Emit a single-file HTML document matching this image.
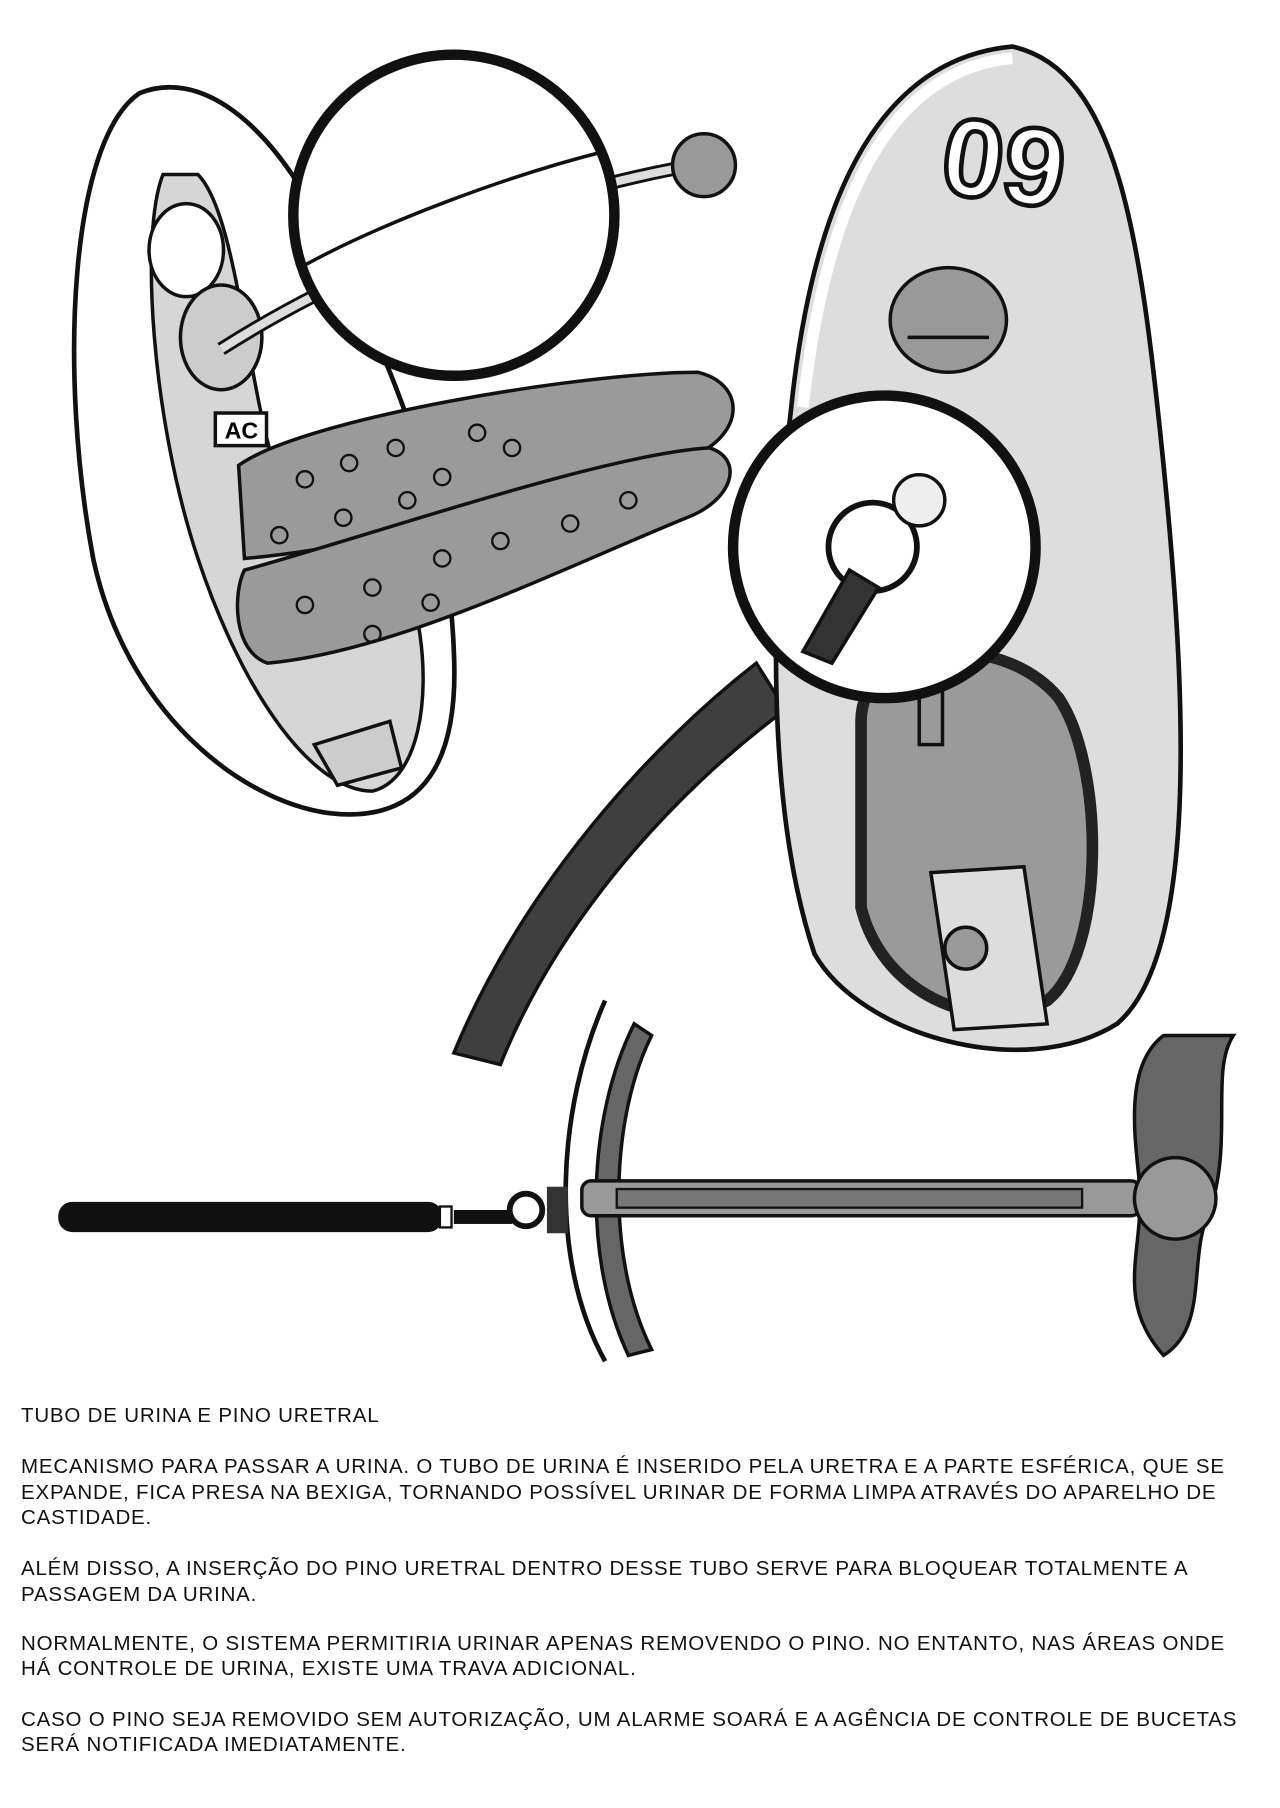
<!DOCTYPE html>
<html><head><meta charset="utf-8"><style>
html,body{margin:0;padding:0;background:#fff;}
#w{position:relative;width:1280px;height:1808px;overflow:hidden;background:#fff;}
svg{position:absolute;left:0;top:0;}
.t{position:absolute;left:21px;font-family:"Liberation Sans",sans-serif;font-size:20.5px;letter-spacing:0.8px;color:#111;text-transform:uppercase;white-space:nowrap;line-height:25px;}
</style></head><body><div id="w">
<svg width="1280" height="1808" viewBox="0 0 1100 1554">
 <path d="M120 80 C60 120 50 320 80 480 C110 620 220 700 300 700 C360 700 395 660 390 560 C385 420 330 300 280 200 C230 100 170 60 120 80Z" fill="#fff" stroke="#111" stroke-width="4"/>
 <path d="M140 150 C120 200 130 360 170 480 C210 600 270 680 320 680 C360 670 370 600 360 540 C300 520 250 460 230 380 C210 300 200 180 170 150Z" fill="#d6d6d6" stroke="#111" stroke-width="3"/>
 <ellipse cx="160" cy="215" rx="32" ry="40" fill="#fff" stroke="#111" stroke-width="3"/>
 <ellipse cx="190" cy="290" rx="35" ry="45" fill="#ccc" stroke="#111" stroke-width="3"/>
 <rect x="185" y="355" width="44" height="28" fill="#fff" stroke="#111" stroke-width="3"/>
 <text x="193" y="377" font-family="Liberation Sans" font-size="20" font-weight="bold">AC</text>
 <path d="M270 640 L335 620 L345 660 L290 675Z" fill="#ccc" stroke="#111" stroke-width="3"/>
 <path d="M205 400 C260 360 500 320 600 320 C640 330 640 370 600 390 C500 420 330 470 210 480Z" fill="#9a9a9a" stroke="#111" stroke-width="3"/>
 <path d="M210 490 C320 460 520 390 610 385 C640 395 630 430 590 445 C480 490 340 560 230 570 C200 560 200 510 210 490Z" fill="#9a9a9a" stroke="#111" stroke-width="3"/>
 <g fill="none" stroke="#111" stroke-width="2">
  <circle cx="262" cy="412" r="7"/><circle cx="300" cy="398" r="7"/><circle cx="340" cy="385" r="7"/><circle cx="380" cy="410" r="7"/><circle cx="440" cy="385" r="7"/><circle cx="410" cy="372" r="7"/><circle cx="240" cy="460" r="7"/><circle cx="295" cy="445" r="7"/><circle cx="350" cy="430" r="7"/><circle cx="262" cy="520" r="7"/><circle cx="320" cy="505" r="7"/><circle cx="380" cy="480" r="7"/><circle cx="430" cy="465" r="7"/><circle cx="320" cy="545" r="7"/><circle cx="370" cy="518" r="7"/><circle cx="490" cy="450" r="7"/><circle cx="540" cy="430" r="7"/>
 </g>
 <path d="M190 300 C300 230 450 170 580 145" stroke="#111" stroke-width="12" fill="none"/>
 <path d="M190 300 C300 230 450 170 580 145" stroke="#ddd" stroke-width="7" fill="none"/>
 <circle cx="605" cy="142" r="27" fill="#999" stroke="#111" stroke-width="3"/>
 <circle cx="390" cy="185" r="138" fill="#fff" stroke="#111" stroke-width="9"/>
 <path d="M258 230 C330 190 440 150 520 130" stroke="#111" stroke-width="3" fill="none"/>
 <path d="M650 570 C560 640 450 760 390 905 L430 915 C480 790 580 680 675 610Z" fill="#3f3f3f" stroke="#111" stroke-width="3"/>
 <path d="M870 40 C760 50 700 160 680 350 C660 520 660 700 700 820 C740 890 880 930 960 880 C1030 820 1020 600 1000 400 C980 200 960 60 870 40Z" fill="#ddd" stroke="#111" stroke-width="4"/>
 <path d="M870 50 C765 60 710 170 690 350" stroke="#fff" stroke-width="10" fill="none"/>
 <text x="810" y="175" font-family="Liberation Sans" font-size="95" font-weight="bold" fill="#fff" stroke="#111" stroke-width="4" transform="rotate(8 880 140)">09</text>
 <ellipse cx="815" cy="275" rx="50" ry="45" fill="#999" stroke="#111" stroke-width="3"/>
 <line x1="780" y1="290" x2="850" y2="290" stroke="#111" stroke-width="3"/>
 <path d="M740 620 C740 550 860 540 910 600 C950 660 950 820 900 860 C850 890 760 860 740 780Z" fill="#9a9a9a" stroke="#222" stroke-width="10"/>
 <rect x="790" y="550" width="20" height="90" fill="#999" stroke="#111" stroke-width="3"/>
 <path d="M800 750 L880 745 L900 880 L820 885Z" fill="#ddd" stroke="#111" stroke-width="3"/>
 <circle cx="830" cy="815" r="18" fill="#999" stroke="#111" stroke-width="3"/>
 <circle cx="760" cy="470" r="130" fill="#fff" stroke="#111" stroke-width="9"/>
 <circle cx="750" cy="470" r="38" fill="none" stroke="#111" stroke-width="5"/>
 <circle cx="790" cy="430" r="22" fill="#eee" stroke="#111" stroke-width="3"/>
 <path d="M690 560 L730 490 L755 505 L715 570Z" fill="#333" stroke="#111" stroke-width="3"/>
 <path d="M520 860 C480 950 470 1080 520 1170" stroke="#111" stroke-width="4" fill="none"/>
 <path d="M545 880 C505 960 500 1080 540 1165 L560 1160 C520 1080 525 960 560 890Z" fill="#666" stroke="#111" stroke-width="3"/>
 <path d="M1000 890 C960 920 980 1000 980 1030 C980 1080 960 1120 1000 1165 C1040 1140 1020 1080 1040 1040 C1060 980 1040 920 1060 890Z" fill="#666" stroke="#111" stroke-width="3"/>
 <rect x="500" y="1015" width="480" height="30" rx="8" fill="#999" stroke="#111" stroke-width="3"/>
 <rect x="530" y="1022" width="400" height="16" fill="#777" stroke="#111" stroke-width="2"/>
 <circle cx="1010" cy="1030" r="35" fill="#999" stroke="#111" stroke-width="3"/>
 <rect x="50" y="1033" width="330" height="26" rx="12" fill="#111"/>
 <rect x="378" y="1037" width="10" height="18" fill="#fff" stroke="#111" stroke-width="2"/>
 <rect x="390" y="1040" width="50" height="12" fill="#111"/>
 <circle cx="452" cy="1040" r="14" fill="none" stroke="#111" stroke-width="5"/>
 <rect x="470" y="1020" width="18" height="40" fill="#333"/>
</svg>
<div class="t" style="top:1403px">Tubo de urina e pino uretral</div>
<div class="t" style="top:1454px">Mecanismo para passar a urina. O tubo de urina é inserido pela uretra e a parte esférica, que se</div>
<div class="t" style="top:1480px">expande, fica presa na bexiga, tornando possível urinar de forma limpa através do aparelho de</div>
<div class="t" style="top:1505px">castidade.</div>
<div class="t" style="top:1556px">Além disso, a inserção do pino uretral dentro desse tubo serve para bloquear totalmente a</div>
<div class="t" style="top:1582px">passagem da urina.</div>
<div class="t" style="top:1631px">Normalmente, o sistema permitiria urinar apenas removendo o pino. No entanto, nas áreas onde</div>
<div class="t" style="top:1656px">há controle de urina, existe uma trava adicional.</div>
<div class="t" style="top:1707px">Caso o pino seja removido sem autorização, um alarme soará e a agência de controle de bucetas</div>
<div class="t" style="top:1732px">será notificada imediatamente.</div>
</div></body></html>
